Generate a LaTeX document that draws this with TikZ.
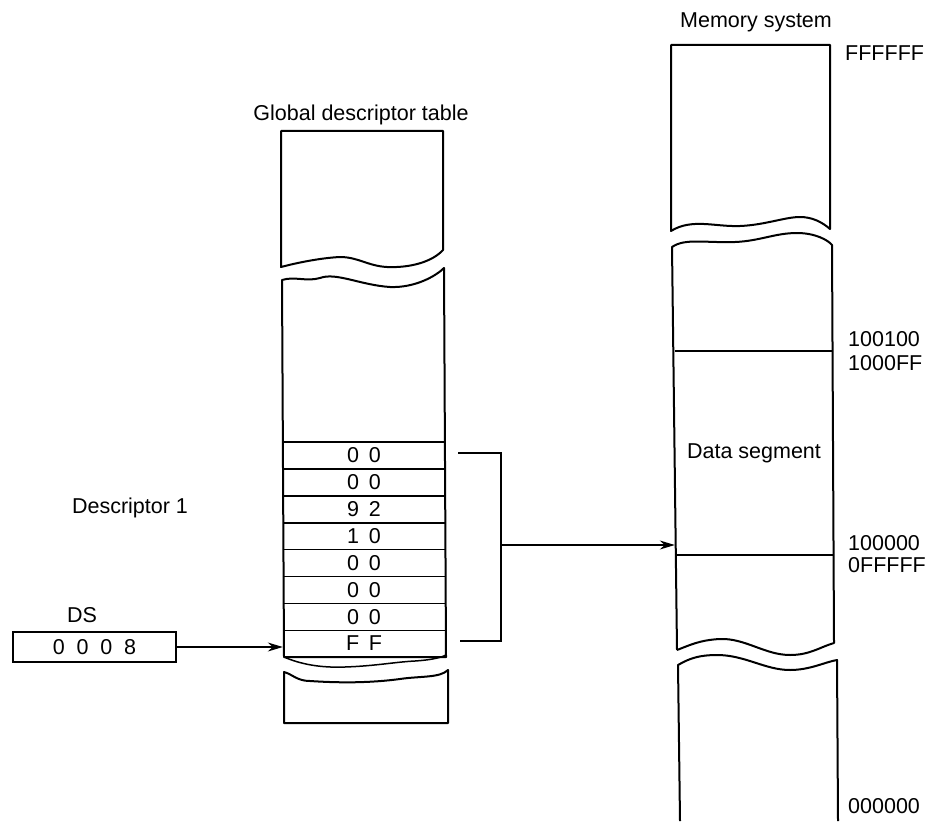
\documentclass[tikz,border=0pt]{standalone}
\usepackage{fontspec}
\setmainfont{Liberation Sans}
\usetikzlibrary{arrows.meta}
\begin{document}
\begin{tikzpicture}[x=1pt,y=-1pt,
  outline/.style={line width=2pt, line join=round},
  sep/.style={line width=1.5pt},
  lbl/.style={font=\fontsize{21.5}{24}\selectfont, inner sep=0pt},
  rowbox/.style={minimum width=162pt, minimum height=26.875pt, inner sep=0pt, font=\fontsize{21.5}{24}\selectfont},
  conn/.style={line width=1.4pt},
  arr/.style={conn, -{Stealth[length=15pt,width=9pt]}}]
\useasboundingbox (0,0) rectangle (933,821);

% ---------- Global descriptor table ----------
\node[lbl] (gdtlbl) at (361,115) {Global descriptor table};
% upper piece
\draw[outline] (281,131) -- (443,131) -- (443,250)
  .. controls (432,262) and (410,268) .. (387,267)
  .. controls (368,266) and (358,257) .. (340,257)
  .. controls (320,258) and (296,263) .. (281,267) -- cycle;
% middle piece
\draw[outline] (282,280)
  .. controls (295,276) and (306,282) .. (320,278)
  .. controls (336,272) and (360,285) .. (390,287)
  .. controls (415,288) and (436,276) .. (444,268)
  -- (446,657) -- (284,657) -- cycle;
\draw[sep] (284,657)
  .. controls (300,664) and (320,668) .. (345,667)
  .. controls (375,666) and (395,662) .. (415,661)
  .. controls (430,660) and (440,658) .. (446,655);
% descriptor rows
\foreach \i/\t in {1/{0\hspace{0.45em}0},2/{0\hspace{0.45em}0},3/{9\hspace{0.45em}2},4/{1\hspace{0.45em}0},5/{0\hspace{0.45em}0},6/{0\hspace{0.45em}0},7/{0\hspace{0.45em}0},8/{F\hspace{0.45em}F}}{
  \node[rowbox] (r\i) at (364,{442+26.875*(\i-0.5)}) {\t};
}
\draw[sep] (r1.north west) -- (r1.north east);
\foreach \i in {1,...,7}{
  \draw[sep] (r\i.south west) -- (r\i.south east);
}
% bottom piece
\draw[outline] (284,672)
  .. controls (292,674) and (297,681) .. (310,681)
  .. controls (340,683) and (370,683) .. (400,679)
  .. controls (420,676) and (440,678) .. (448,670)
  -- (448,723) -- (284,723) -- cycle;

\node[lbl] (desc) at (130,508) {Descriptor 1};

% ---------- DS register ----------
\node[lbl] (dslbl) at (82,615) {DS};
\node[draw, line width=1.8pt, minimum width=163pt, minimum height=30pt, inner sep=0pt, font=\fontsize{21.5}{24}\selectfont] (ds) at (94.5,647) {0\hspace{0.55em}0\hspace{0.55em}0\hspace{0.55em}8};
\draw[arr] (ds.east) -- (r8.west |- ds.east);

% ---------- bracket and arrow ----------
\coordinate (bt) at (458,453);
\coordinate (btr) at (501,453);
\coordinate (bbr) at (501,641);
\coordinate (bb) at (460,641);
\coordinate (brk) at (501,545);
\draw[conn, line width=1.6pt] (bt) -- (btr) -- (bbr) -- (bb);

% ---------- Memory system ----------
\node[lbl] (memlbl) at (756,22) {Memory system};
\node[lbl, anchor=west] (aF) at (845,53) {FFFFFF};
% top piece
\draw[outline] (671,45) -- (830,45) -- (830,229)
  .. controls (822,222) and (812,217) .. (800,217)
  .. controls (785,217) and (765,225) .. (740,226)
  .. controls (715,227) and (692,218) .. (671,231) -- cycle;
% middle piece
\draw[outline] (677,650) -- (672,247)
  .. controls (685,238) and (705,243) .. (735,242)
  .. controls (760,241) and (775,233) .. (797,233)
  .. controls (815,233) and (828,240) .. (832,245)
  -- (834,643)
  .. controls (820,647) and (810,655) .. (790,655)
  .. controls (765,655) and (745,638) .. (720,639)
  .. controls (700,640) and (690,645) .. (677,650);
\node[lbl, minimum width=158pt, minimum height=204pt] (dseg) at (754,453) {Data segment};
\draw[sep] (dseg.north west) -- (dseg.north east);
\draw[sep] (dseg.south west) -- (dseg.south east);
\draw[arr] (brk) -- (dseg.west |- brk);
% bottom piece (open)
\draw[outline] (680,821) -- (678,665)
  .. controls (690,658) and (700,655) .. (717,655)
  .. controls (745,655) and (765,670) .. (790,670)
  .. controls (810,670) and (825,662) .. (837,660)
  -- (838,821);

% address labels
\node[lbl, anchor=west] (a1) at (848,339) {100100};
\node[lbl, anchor=west] (a2) at (848,363) {1000FF};
\node[lbl, anchor=west] (a3) at (848,543) {100000};
\node[lbl, anchor=west] (a4) at (848,565) {0FFFFF};
\node[lbl, anchor=west] (a5) at (848,806) {000000};
\end{tikzpicture}
\end{document}
